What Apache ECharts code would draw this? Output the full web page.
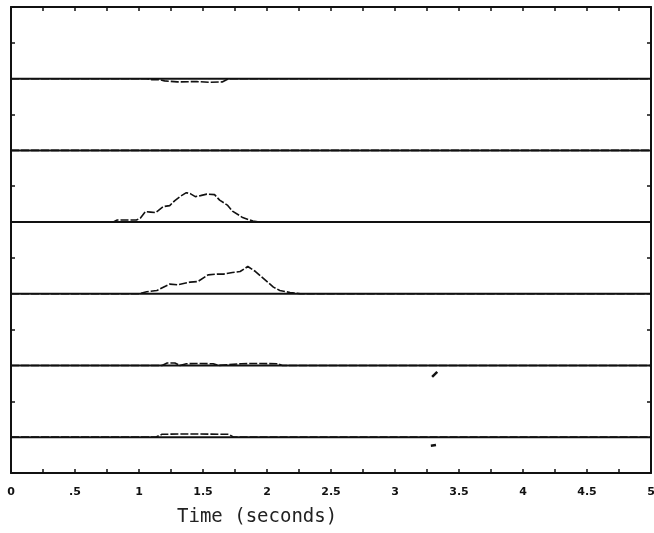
<!DOCTYPE html>
<html>
<head>
<meta charset="utf-8">
<script src="https://cdn.jsdelivr.net/npm/echarts@6/dist/echarts.min.js"></script>
<style>
  html, body { margin: 0; padding: 0; background: #fff; }
  #chart { width: 654px; height: 533px; }
</style>
</head>
<body>
<div id="chart"></div>
<script>
// tick labels along time axis (s)
const tickLabels = ['0', '.5', '1', '1.5', '2', '2.5', '3', '3.5', '4', '4.5', '5']

// channel zero lines, one band per unit, from bottom to top
const baselines = [0.5, 1.5, 2.5, 3.5, 4.5, 5.5]

// each trace: time (s) and deflection from its zero line (band units)
const ch6Time = [0, 1.06, 1.1, 1.16, 1.2, 1.3, 1.45, 1.55, 1.65, 1.7, 5]
const ch6Amp  = [0, 0, -0.015, -0.015, -0.03, -0.045, -0.04, -0.05, -0.045, 0, 0]

const ch5Time = [0, 5]
const ch5Amp  = [0, 0]

const ch4Time = [0, 0.8, 0.83, 0.98, 1.01, 1.05, 1.09, 1.13, 1.15, 1.19, 1.24, 1.28, 1.32, 1.37, 1.40, 1.44, 1.48, 1.53, 1.59, 1.63, 1.69, 1.73, 1.81, 1.89, 1.95, 5]
const ch4Amp  = [0, 0, 0.028, 0.028, 0.055, 0.146, 0.139, 0.132, 0.16, 0.216, 0.23, 0.30, 0.355, 0.41, 0.397, 0.355, 0.369, 0.39, 0.383, 0.306, 0.237, 0.153, 0.063, 0.014, 0, 0]

const ch3Time = [0, 1.0, 1.06, 1.14, 1.24, 1.30, 1.40, 1.46, 1.54, 1.61, 1.66, 1.73, 1.79, 1.85, 1.91, 2.05, 2.10, 2.18, 2.26, 5]
const ch3Amp  = [0, 0, 0.028, 0.046, 0.135, 0.125, 0.163, 0.171, 0.264, 0.274, 0.274, 0.296, 0.31, 0.38, 0.31, 0.093, 0.046, 0.018, 0, 0]

const ch2Time = [0, 1.18, 1.22, 1.28, 1.32, 1.37, 1.45, 1.58, 1.62, 1.8, 1.9, 2.08, 2.12, 5]
const ch2Amp  = [0, 0, 0.035, 0.035, 0, 0.024, 0.028, 0.024, 0, 0.024, 0.028, 0.024, 0, 0]

const ch1Time = [0, 1.13, 1.18, 1.35, 1.55, 1.7, 1.74, 5]
const ch1Amp  = [0, 0, 0.04, 0.045, 0.042, 0.04, 0, 0]

// short isolated blips near 3.3 s
const blip2Time = [3.29, 3.33]
const blip2Amp  = [-0.16, -0.09]
const blip1Time = [3.28, 3.32]
const blip1Amp  = [-0.12, -0.11]

const traces = [
  { base: baselines[5], t: ch6Time, a: ch6Amp },
  { base: baselines[4], t: ch5Time, a: ch5Amp },
  { base: baselines[3], t: ch4Time, a: ch4Amp },
  { base: baselines[2], t: ch3Time, a: ch3Amp },
  { base: baselines[1], t: ch2Time, a: ch2Amp },
  { base: baselines[0], t: ch1Time, a: ch1Amp }
]
const blips = [
  { base: baselines[1], t: blip2Time, a: blip2Amp },
  { base: baselines[0], t: blip1Time, a: blip1Amp }
]

const ink = '#111'
const chart = echarts.init(document.getElementById('chart'))

const toData = (tr) => tr.t.map((t, i) => [t, tr.base + tr.a[i]])

const series = []
baselines.forEach(b => {
  series.push({
    type: 'line', showSymbol: false, silent: true,
    data: [[0, b], [5, b]],
    lineStyle: { color: ink, width: 2 }
  })
})
traces.forEach(tr => {
  series.push({
    type: 'line', showSymbol: false, silent: true,
    data: toData(tr),
    lineStyle: { color: ink, width: 1.6, type: [8, 2] }
  })
})
blips.forEach(tr => {
  series.push({
    type: 'line', showSymbol: false, silent: true,
    data: toData(tr),
    lineStyle: { color: ink, width: 2.5 }
  })
})

const frameX = (pos, showLabels) => ({
  type: 'value',
  position: pos,
  min: 0,
  max: 5,
  interval: 0.5,
  axisLine: { show: true, onZero: false, lineStyle: { color: ink, width: 2 } },
  axisTick: { show: true, inside: true, length: 4, lineStyle: { color: ink, width: 1.5 } },
  minorTick: { show: true, splitNumber: 2, length: 4, lineStyle: { color: ink, width: 1.5 } },
  axisLabel: {
    show: showLabels,
    margin: 14,
    color: ink,
    fontFamily: 'DejaVu Sans',
    fontWeight: 'bold',
    fontSize: 11,
    formatter: (v) => tickLabels[Math.round(v / 0.5)]
  },
  splitLine: { show: false }
})

const frameY = (pos) => ({
  type: 'value',
  position: pos,
  min: 0,
  max: 6.5,
  interval: 1,
  axisLine: { show: true, onZero: false, lineStyle: { color: ink, width: 2 } },
  axisTick: { show: true, inside: true, length: 4, lineStyle: { color: ink, width: 1.5 } },
  axisLabel: { show: false },
  splitLine: { show: false }
})

chart.setOption({
  backgroundColor: '#fff',
  animation: false,
  title: {
    text: 'Time (seconds)',
    left: 172,
    top: 503,
    textStyle: { color: '#222', fontFamily: 'DejaVu Sans Mono', fontWeight: 'normal', fontSize: 19 }
  },
  grid: { left: 11, right: 3, top: 7, bottom: 60, outerBoundsMode: 'none', containLabel: false },
  xAxis: [frameX('bottom', true), frameX('top', false)],
  yAxis: [frameY('left'), frameY('right')],
  series
})
</script>
</body>
</html>
